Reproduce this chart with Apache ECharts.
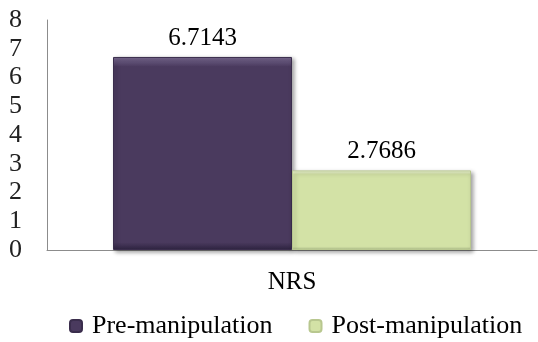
<!DOCTYPE html>
<html>
<head>
<meta charset="utf-8">
<script src="https://cdn.jsdelivr.net/npm/echarts@6/dist/echarts.min.js"></script>
<style>
  html, body { margin: 0; padding: 0; background: #fff; }
  #chart { width: 538px; height: 342px; }
</style>
</head>
<body>
<div id="chart"></div>
<script>
// NRS pain scores before and after manipulation
var categories = ['NRS'];
var seriesNames = ['Pre-manipulation', 'Post-manipulation'];
var preValues = [6.7143];
var postValues = [2.7686];
var yTicks = [0, 1, 2, 3, 4, 5, 6, 7, 8];

var font = 'Liberation Serif, Times New Roman, serif';

function bevel(top, mid, bottom) {
  return {
    type: 'linear', x: 0, y: 0, x2: 0, y2: 1,
    colorStops: [
      { offset: 0, color: top },
      { offset: 0.05, color: mid },
      { offset: 0.96, color: mid },
      { offset: 1, color: bottom }
    ]
  };
}

var chart = echarts.init(document.getElementById('chart'));
chart.setOption({
  animation: false,
  backgroundColor: '#ffffff',
  grid: { left: 47, right: 1, top: 20, bottom: 92, containLabel: false },
  legend: {
    data: seriesNames,
    bottom: -2,
    left: 64,
    itemWidth: 12,
    itemHeight: 12,
    itemGap: 36,
    textStyle: { fontFamily: font, fontSize: 26, color: '#000', padding: [0, 0, 0, 5] }
  },
  xAxis: {
    type: 'category',
    data: categories,
    axisLine: { show: true, lineStyle: { color: '#8c8c8c', width: 1 } },
    axisTick: { show: false },
    axisLabel: { fontFamily: font, fontSize: 25, color: '#000', margin: 20 }
  },
  yAxis: {
    type: 'value',
    min: yTicks[0],
    max: yTicks[yTicks.length - 1],
    interval: 1,
    axisLine: { show: true, lineStyle: { color: '#8c8c8c', width: 1 } },
    axisTick: { show: false },
    splitLine: { show: false },
    axisLabel: { fontFamily: font, fontSize: 26, color: '#222', margin: 38, align: 'left' }
  },
  series: [
    {
      name: seriesNames[0],
      type: 'bar',
      data: preValues,
      barWidth: 179,
      barGap: '0%',
      itemStyle: {
        color: bevel('#7a6a92', '#4a3a5e', '#2e2340'),
        borderColor: '#3a2d4c',
        borderWidth: 1,
        shadowColor: 'rgba(0,0,0,0.35)',
        shadowBlur: 4,
        shadowOffsetX: 2,
        shadowOffsetY: 2
      },
      label: {
        show: true, position: 'top', distance: 6,
        fontFamily: font, fontSize: 25, color: '#000',
        formatter: function (p) { return p.value.toFixed(4); }
      }
    },
    {
      name: seriesNames[1],
      type: 'bar',
      data: postValues,
      barWidth: 179,
      barGap: '0%',
      itemStyle: {
        color: bevel('#eef5d8', '#d3e2a6', '#a9b884'),
        borderColor: '#b8c78f',
        borderWidth: 1,
        shadowColor: 'rgba(0,0,0,0.35)',
        shadowBlur: 4,
        shadowOffsetX: 2,
        shadowOffsetY: 2
      },
      label: {
        show: true, position: 'top', distance: 6,
        fontFamily: font, fontSize: 25, color: '#000',
        formatter: function (p) { return p.value.toFixed(4); }
      }
    }
  ]
});
</script>
</body>
</html>
